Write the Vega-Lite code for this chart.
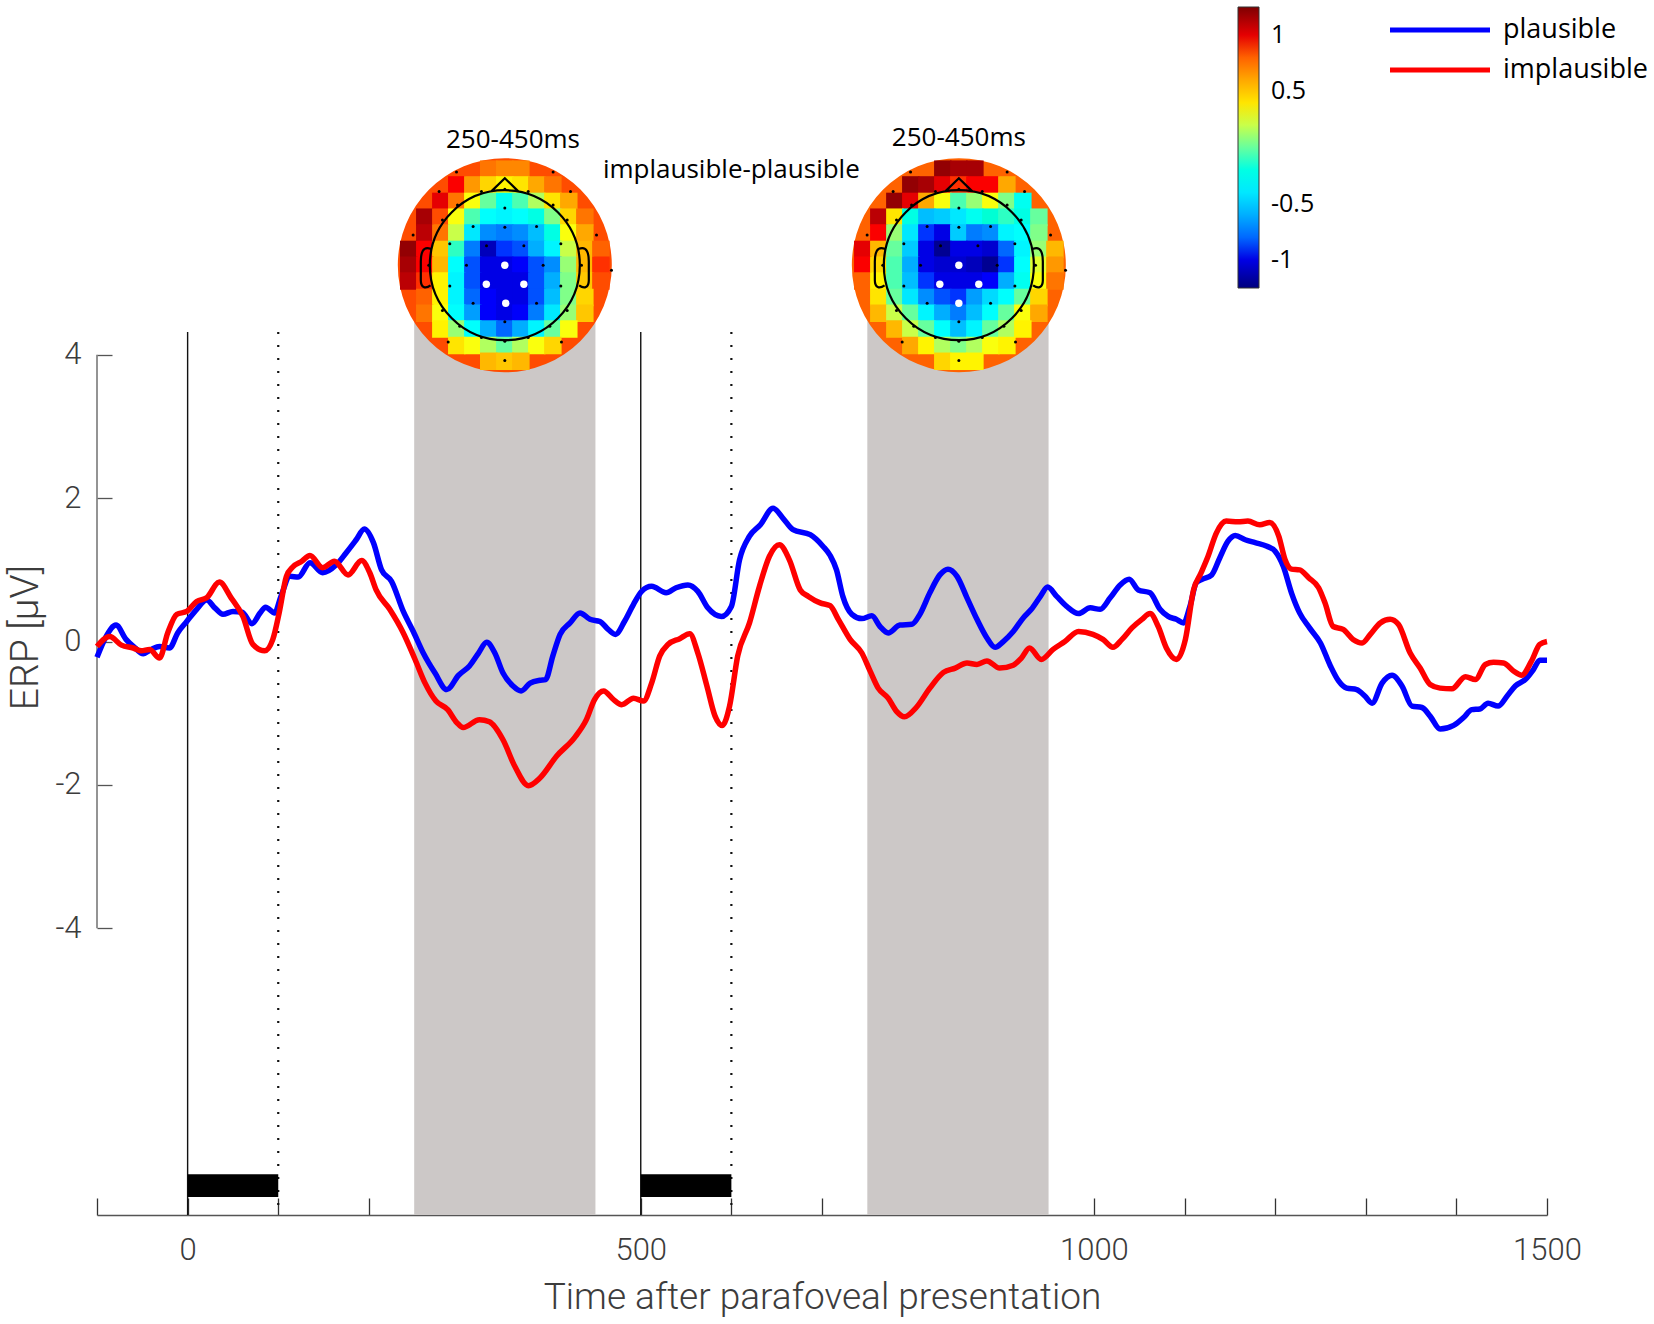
{
  "$schema": "https://vega.github.io/schema/vega-lite/v6.json",
  "width": 1450,
  "height": 1215,
  "autosize": {"type": "none"},
  "padding": {"left": 97, "top": 0, "right": 107, "bottom": 109},
  "background": "white",
  "config": {"view": {"stroke": null}},
  "datasets": {
    "erp": [
      {"condition":"plausible","time":-100,"erp":-0.22},{"condition":"plausible","time":-90,"erp":0.07},{"condition":"plausible","time":-79,"erp":0.23},{"condition":"plausible","time":-68,"erp":0.03},{"condition":"plausible","time":-58,"erp":-0.09},{"condition":"plausible","time":-49,"erp":-0.17},{"condition":"plausible","time":-40,"erp":-0.11},{"condition":"plausible","time":-31,"erp":-0.07},{"condition":"plausible","time":-20,"erp":-0.09},{"condition":"plausible","time":-11,"erp":0.12},{"condition":"plausible","time":-1,"erp":0.28},{"condition":"plausible","time":10,"erp":0.45},{"condition":"plausible","time":21,"erp":0.58},{"condition":"plausible","time":30,"erp":0.47},{"condition":"plausible","time":39,"erp":0.38},{"condition":"plausible","time":50,"erp":0.42},{"condition":"plausible","time":60,"erp":0.41},{"condition":"plausible","time":71,"erp":0.25},{"condition":"plausible","time":80,"erp":0.4},{"condition":"plausible","time":86,"erp":0.48},{"condition":"plausible","time":96,"erp":0.4},{"condition":"plausible","time":103,"erp":0.63},{"condition":"plausible","time":113,"erp":0.91},{"condition":"plausible","time":122,"erp":0.9},{"condition":"plausible","time":135,"erp":1.1},{"condition":"plausible","time":149,"erp":0.96},{"condition":"plausible","time":164,"erp":1.07},{"condition":"plausible","time":175,"erp":1.24},{"condition":"plausible","time":186,"erp":1.42},{"condition":"plausible","time":195,"erp":1.57},{"condition":"plausible","time":205,"erp":1.38},{"condition":"plausible","time":214,"erp":1.0},{"condition":"plausible","time":225,"erp":0.84},{"condition":"plausible","time":238,"erp":0.42},{"condition":"plausible","time":249,"erp":0.14},{"condition":"plausible","time":260,"erp":-0.16},{"condition":"plausible","time":273,"erp":-0.44},{"condition":"plausible","time":286,"erp":-0.67},{"condition":"plausible","time":299,"erp":-0.47},{"condition":"plausible","time":311,"erp":-0.34},{"condition":"plausible","time":321,"erp":-0.16},{"condition":"plausible","time":330,"erp":-0.01},{"condition":"plausible","time":339,"erp":-0.16},{"condition":"plausible","time":348,"erp":-0.44},{"condition":"plausible","time":359,"erp":-0.62},{"condition":"plausible","time":368,"erp":-0.69},{"condition":"plausible","time":378,"erp":-0.58},{"condition":"plausible","time":389,"erp":-0.54},{"condition":"plausible","time":395,"erp":-0.53},{"condition":"plausible","time":403,"erp":-0.2},{"condition":"plausible","time":411,"erp":0.1},{"condition":"plausible","time":422,"erp":0.26},{"condition":"plausible","time":433,"erp":0.4},{"condition":"plausible","time":444,"erp":0.31},{"condition":"plausible","time":455,"erp":0.28},{"condition":"plausible","time":464,"erp":0.17},{"condition":"plausible","time":472,"erp":0.1},{"condition":"plausible","time":482,"erp":0.28},{"condition":"plausible","time":492,"erp":0.52},{"condition":"plausible","time":501,"erp":0.7},{"condition":"plausible","time":512,"erp":0.77},{"condition":"plausible","time":528,"erp":0.68},{"condition":"plausible","time":539,"erp":0.75},{"condition":"plausible","time":552,"erp":0.79},{"condition":"plausible","time":563,"erp":0.7},{"condition":"plausible","time":574,"erp":0.47},{"condition":"plausible","time":589,"erp":0.35},{"condition":"plausible","time":600,"erp":0.49},{"condition":"plausible","time":609,"erp":1.14},{"condition":"plausible","time":620,"erp":1.47},{"condition":"plausible","time":632,"erp":1.63},{"condition":"plausible","time":646,"erp":1.86},{"condition":"plausible","time":657,"erp":1.72},{"condition":"plausible","time":668,"erp":1.56},{"condition":"plausible","time":687,"erp":1.49},{"condition":"plausible","time":701,"erp":1.33},{"condition":"plausible","time":709,"erp":1.2},{"condition":"plausible","time":716,"erp":1.0},{"condition":"plausible","time":723,"erp":0.63},{"condition":"plausible","time":733,"erp":0.38},{"condition":"plausible","time":744,"erp":0.32},{"condition":"plausible","time":755,"erp":0.36},{"condition":"plausible","time":764,"erp":0.21},{"condition":"plausible","time":773,"erp":0.12},{"condition":"plausible","time":786,"erp":0.23},{"condition":"plausible","time":799,"erp":0.24},{"condition":"plausible","time":808,"erp":0.38},{"condition":"plausible","time":819,"erp":0.68},{"condition":"plausible","time":830,"erp":0.93},{"condition":"plausible","time":839,"erp":1.01},{"condition":"plausible","time":849,"erp":0.91},{"condition":"plausible","time":860,"erp":0.61},{"condition":"plausible","time":871,"erp":0.31},{"condition":"plausible","time":882,"erp":0.05},{"condition":"plausible","time":891,"erp":-0.08},{"condition":"plausible","time":900,"erp":0.0},{"condition":"plausible","time":911,"erp":0.14},{"condition":"plausible","time":922,"erp":0.33},{"condition":"plausible","time":931,"erp":0.45},{"condition":"plausible","time":941,"erp":0.63},{"condition":"plausible","time":949,"erp":0.76},{"condition":"plausible","time":959,"erp":0.63},{"condition":"plausible","time":970,"erp":0.49},{"condition":"plausible","time":983,"erp":0.39},{"condition":"plausible","time":996,"erp":0.47},{"condition":"plausible","time":1007,"erp":0.45},{"condition":"plausible","time":1018,"erp":0.61},{"condition":"plausible","time":1029,"erp":0.79},{"condition":"plausible","time":1039,"erp":0.87},{"condition":"plausible","time":1049,"erp":0.72},{"condition":"plausible","time":1062,"erp":0.68},{"condition":"plausible","time":1073,"erp":0.45},{"condition":"plausible","time":1082,"erp":0.35},{"condition":"plausible","time":1091,"erp":0.31},{"condition":"plausible","time":1099,"erp":0.26},{"condition":"plausible","time":1106,"erp":0.49},{"condition":"plausible","time":1113,"erp":0.82},{"condition":"plausible","time":1120,"erp":0.87},{"condition":"plausible","time":1130,"erp":0.93},{"condition":"plausible","time":1139,"erp":1.17},{"condition":"plausible","time":1148,"erp":1.4},{"condition":"plausible","time":1156,"erp":1.48},{"condition":"plausible","time":1167,"erp":1.42},{"condition":"plausible","time":1178,"erp":1.38},{"condition":"plausible","time":1191,"erp":1.33},{"condition":"plausible","time":1200,"erp":1.26},{"condition":"plausible","time":1209,"erp":1.05},{"condition":"plausible","time":1218,"erp":0.68},{"condition":"plausible","time":1227,"erp":0.4},{"condition":"plausible","time":1238,"erp":0.19},{"condition":"plausible","time":1250,"erp":-0.02},{"condition":"plausible","time":1261,"erp":-0.34},{"condition":"plausible","time":1270,"erp":-0.55},{"condition":"plausible","time":1279,"erp":-0.65},{"condition":"plausible","time":1290,"erp":-0.67},{"condition":"plausible","time":1299,"erp":-0.76},{"condition":"plausible","time":1307,"erp":-0.86},{"condition":"plausible","time":1318,"erp":-0.58},{"condition":"plausible","time":1329,"erp":-0.47},{"condition":"plausible","time":1340,"erp":-0.62},{"condition":"plausible","time":1351,"erp":-0.9},{"condition":"plausible","time":1362,"erp":-0.92},{"condition":"plausible","time":1371,"erp":-1.04},{"condition":"plausible","time":1382,"erp":-1.22},{"condition":"plausible","time":1397,"erp":-1.17},{"condition":"plausible","time":1408,"erp":-1.06},{"condition":"plausible","time":1417,"erp":-0.95},{"condition":"plausible","time":1426,"erp":-0.94},{"condition":"plausible","time":1435,"erp":-0.86},{"condition":"plausible","time":1446,"erp":-0.9},{"condition":"plausible","time":1456,"erp":-0.76},{"condition":"plausible","time":1465,"erp":-0.62},{"condition":"plausible","time":1476,"erp":-0.53},{"condition":"plausible","time":1485,"erp":-0.39},{"condition":"plausible","time":1492,"erp":-0.26},{"condition":"plausible","time":1500,"erp":-0.26},
      {"condition":"implausible","time":-100,"erp":-0.07},{"condition":"implausible","time":-86,"erp":0.07},{"condition":"implausible","time":-73,"erp":-0.05},{"condition":"implausible","time":-60,"erp":-0.09},{"condition":"implausible","time":-51,"erp":-0.13},{"condition":"implausible","time":-42,"erp":-0.11},{"condition":"implausible","time":-31,"erp":-0.23},{"condition":"implausible","time":-22,"erp":0.12},{"condition":"implausible","time":-12,"erp":0.38},{"condition":"implausible","time":-1,"erp":0.42},{"condition":"implausible","time":10,"erp":0.56},{"condition":"implausible","time":21,"erp":0.61},{"condition":"implausible","time":35,"erp":0.83},{"condition":"implausible","time":48,"erp":0.61},{"condition":"implausible","time":61,"erp":0.35},{"condition":"implausible","time":72,"erp":-0.04},{"condition":"implausible","time":85,"erp":-0.13},{"condition":"implausible","time":94,"erp":0.03},{"condition":"implausible","time":101,"erp":0.4},{"condition":"implausible","time":109,"erp":0.91},{"condition":"implausible","time":116,"erp":1.04},{"condition":"implausible","time":126,"erp":1.12},{"condition":"implausible","time":135,"erp":1.2},{"condition":"implausible","time":149,"erp":1.03},{"condition":"implausible","time":162,"erp":1.12},{"condition":"implausible","time":177,"erp":0.93},{"condition":"implausible","time":192,"erp":1.13},{"condition":"implausible","time":201,"erp":0.96},{"condition":"implausible","time":208,"erp":0.72},{"condition":"implausible","time":223,"erp":0.45},{"condition":"implausible","time":238,"erp":0.12},{"condition":"implausible","time":251,"erp":-0.25},{"condition":"implausible","time":262,"erp":-0.58},{"condition":"implausible","time":274,"erp":-0.83},{"condition":"implausible","time":287,"erp":-0.95},{"condition":"implausible","time":297,"erp":-1.13},{"condition":"implausible","time":304,"erp":-1.2},{"condition":"implausible","time":322,"erp":-1.09},{"condition":"implausible","time":333,"erp":-1.12},{"condition":"implausible","time":348,"erp":-1.37},{"condition":"implausible","time":361,"erp":-1.74},{"condition":"implausible","time":376,"erp":-2.01},{"condition":"implausible","time":389,"erp":-1.9},{"condition":"implausible","time":407,"erp":-1.6},{"condition":"implausible","time":427,"erp":-1.34},{"condition":"implausible","time":440,"erp":-1.09},{"condition":"implausible","time":449,"erp":-0.81},{"condition":"implausible","time":459,"erp":-0.69},{"condition":"implausible","time":470,"erp":-0.81},{"condition":"implausible","time":479,"erp":-0.88},{"condition":"implausible","time":492,"erp":-0.79},{"condition":"implausible","time":503,"erp":-0.83},{"condition":"implausible","time":512,"erp":-0.58},{"condition":"implausible","time":521,"erp":-0.2},{"condition":"implausible","time":530,"erp":-0.04},{"condition":"implausible","time":543,"erp":0.04},{"condition":"implausible","time":554,"erp":0.11},{"condition":"implausible","time":563,"erp":-0.16},{"condition":"implausible","time":573,"erp":-0.62},{"condition":"implausible","time":582,"erp":-1.04},{"condition":"implausible","time":590,"erp":-1.17},{"condition":"implausible","time":598,"erp":-0.9},{"condition":"implausible","time":607,"erp":-0.2},{"condition":"implausible","time":620,"erp":0.26},{"condition":"implausible","time":631,"erp":0.77},{"condition":"implausible","time":642,"erp":1.19},{"condition":"implausible","time":653,"erp":1.35},{"condition":"implausible","time":664,"erp":1.14},{"condition":"implausible","time":676,"erp":0.72},{"condition":"implausible","time":685,"erp":0.63},{"condition":"implausible","time":698,"erp":0.54},{"condition":"implausible","time":709,"erp":0.5},{"condition":"implausible","time":718,"erp":0.31},{"condition":"implausible","time":731,"erp":0.03},{"condition":"implausible","time":744,"erp":-0.16},{"condition":"implausible","time":753,"erp":-0.41},{"condition":"implausible","time":762,"erp":-0.65},{"condition":"implausible","time":773,"erp":-0.79},{"condition":"implausible","time":782,"erp":-0.97},{"condition":"implausible","time":791,"erp":-1.05},{"condition":"implausible","time":804,"erp":-0.92},{"condition":"implausible","time":819,"erp":-0.65},{"condition":"implausible","time":834,"erp":-0.43},{"condition":"implausible","time":847,"erp":-0.37},{"condition":"implausible","time":860,"erp":-0.3},{"condition":"implausible","time":871,"erp":-0.32},{"condition":"implausible","time":882,"erp":-0.27},{"condition":"implausible","time":896,"erp":-0.37},{"condition":"implausible","time":911,"erp":-0.33},{"condition":"implausible","time":920,"erp":-0.23},{"condition":"implausible","time":929,"erp":-0.09},{"condition":"implausible","time":942,"erp":-0.25},{"condition":"implausible","time":955,"erp":-0.11},{"condition":"implausible","time":968,"erp":0.0},{"condition":"implausible","time":983,"erp":0.14},{"condition":"implausible","time":999,"erp":0.1},{"condition":"implausible","time":1010,"erp":0.03},{"condition":"implausible","time":1021,"erp":-0.08},{"condition":"implausible","time":1031,"erp":0.03},{"condition":"implausible","time":1042,"erp":0.19},{"condition":"implausible","time":1053,"erp":0.31},{"condition":"implausible","time":1062,"erp":0.39},{"condition":"implausible","time":1071,"erp":0.21},{"condition":"implausible","time":1080,"erp":-0.09},{"condition":"implausible","time":1091,"erp":-0.25},{"condition":"implausible","time":1101,"erp":0.03},{"condition":"implausible","time":1110,"erp":0.72},{"condition":"implausible","time":1118,"erp":0.95},{"condition":"implausible","time":1126,"erp":1.19},{"condition":"implausible","time":1135,"erp":1.51},{"condition":"implausible","time":1146,"erp":1.68},{"condition":"implausible","time":1159,"erp":1.67},{"condition":"implausible","time":1170,"erp":1.68},{"condition":"implausible","time":1183,"erp":1.63},{"condition":"implausible","time":1194,"erp":1.66},{"condition":"implausible","time":1204,"erp":1.47},{"condition":"implausible","time":1211,"erp":1.14},{"condition":"implausible","time":1218,"erp":1.01},{"condition":"implausible","time":1227,"erp":1.0},{"condition":"implausible","time":1237,"erp":0.89},{"condition":"implausible","time":1248,"erp":0.75},{"condition":"implausible","time":1255,"erp":0.54},{"condition":"implausible","time":1264,"erp":0.21},{"condition":"implausible","time":1275,"erp":0.17},{"condition":"implausible","time":1286,"erp":0.03},{"condition":"implausible","time":1296,"erp":-0.02},{"condition":"implausible","time":1305,"erp":0.1},{"condition":"implausible","time":1316,"erp":0.26},{"condition":"implausible","time":1327,"erp":0.31},{"condition":"implausible","time":1336,"erp":0.24},{"condition":"implausible","time":1349,"erp":-0.16},{"condition":"implausible","time":1360,"erp":-0.37},{"condition":"implausible","time":1371,"erp":-0.6},{"condition":"implausible","time":1382,"erp":-0.65},{"condition":"implausible","time":1395,"erp":-0.66},{"condition":"implausible","time":1410,"erp":-0.49},{"condition":"implausible","time":1421,"erp":-0.53},{"condition":"implausible","time":1432,"erp":-0.32},{"condition":"implausible","time":1441,"erp":-0.29},{"condition":"implausible","time":1452,"erp":-0.3},{"condition":"implausible","time":1463,"erp":-0.41},{"condition":"implausible","time":1472,"erp":-0.47},{"condition":"implausible","time":1483,"erp":-0.27},{"condition":"implausible","time":1492,"erp":-0.04},{"condition":"implausible","time":1500,"erp":0.0}
    ],
    "windows": [
      {"time": 250, "time_end": 450},
      {"time": 750, "time_end": 950}
    ],
    "stimuli": [
      {"time": 0, "time_end": 100},
      {"time": 500, "time_end": 600}
    ],
    "onsets": [{"time": 0}, {"time": 500}],
    "offsets": [{"time": 100}, {"time": 600}],
    "maps": [
      {"time": 350, "erp": 5.25, "amp": 0.85},
      {"time": 851, "erp": 5.25, "amp": 0.8}
    ],
    "topo": [
      {"time":332.3,"erp":6.59,"amp":0.75},{"time":350,"erp":6.59,"amp":0.7},{"time":367.7,"erp":6.59,"amp":0.7},
      {"time":297,"erp":6.37,"amp":0.95},{"time":314.7,"erp":6.37,"amp":0.65},{"time":332.3,"erp":6.37,"amp":0.45},{"time":350,"erp":6.37,"amp":0.35},{"time":367.7,"erp":6.37,"amp":0.4},{"time":385.3,"erp":6.37,"amp":0.6},{"time":403,"erp":6.37,"amp":0.75},
      {"time":279.4,"erp":6.14,"amp":1.0},{"time":297,"erp":6.14,"amp":0.75},{"time":314.7,"erp":6.14,"amp":0.3},{"time":332.3,"erp":6.14,"amp":0.0},{"time":350,"erp":6.14,"amp":-0.25},{"time":367.7,"erp":6.14,"amp":-0.05},{"time":385.3,"erp":6.14,"amp":0.15},{"time":403,"erp":6.14,"amp":0.4},{"time":420.6,"erp":6.14,"amp":0.6},
      {"time":261.7,"erp":5.92,"amp":1.15},{"time":279.4,"erp":5.92,"amp":0.85},{"time":297,"erp":5.92,"amp":0.3},{"time":314.7,"erp":5.92,"amp":-0.05},{"time":332.3,"erp":5.92,"amp":-0.3},{"time":350,"erp":5.92,"amp":-0.35},{"time":367.7,"erp":5.92,"amp":-0.3},{"time":385.3,"erp":5.92,"amp":-0.2},{"time":403,"erp":5.92,"amp":0.05},{"time":420.6,"erp":5.92,"amp":0.45},{"time":438.3,"erp":5.92,"amp":0.75},
      {"time":261.7,"erp":5.7,"amp":1.1},{"time":279.4,"erp":5.7,"amp":0.75},{"time":297,"erp":5.7,"amp":0.2},{"time":314.7,"erp":5.7,"amp":-0.4},{"time":332.3,"erp":5.7,"amp":-0.7},{"time":350,"erp":5.7,"amp":-0.75},{"time":367.7,"erp":5.7,"amp":-0.7},{"time":385.3,"erp":5.7,"amp":-0.55},{"time":403,"erp":5.7,"amp":-0.2},{"time":420.6,"erp":5.7,"amp":0.3},{"time":438.3,"erp":5.7,"amp":0.6},
      {"time":244,"erp":5.47,"amp":1.2},{"time":261.7,"erp":5.47,"amp":0.95},{"time":279.4,"erp":5.47,"amp":0.5},{"time":297,"erp":5.47,"amp":-0.1},{"time":314.7,"erp":5.47,"amp":-0.75},{"time":332.3,"erp":5.47,"amp":-1.1},{"time":350,"erp":5.47,"amp":-0.9},{"time":367.7,"erp":5.47,"amp":-0.85},{"time":385.3,"erp":5.47,"amp":-0.6},{"time":403,"erp":5.47,"amp":-0.35},{"time":420.6,"erp":5.47,"amp":0.2},{"time":438.3,"erp":5.47,"amp":0.55},{"time":456,"erp":5.47,"amp":0.8},
      {"time":244,"erp":5.25,"amp":1.15},{"time":261.7,"erp":5.25,"amp":0.95},{"time":279.4,"erp":5.25,"amp":0.55},{"time":297,"erp":5.25,"amp":-0.3},{"time":314.7,"erp":5.25,"amp":-0.85},{"time":332.3,"erp":5.25,"amp":-1.0},{"time":350,"erp":5.25,"amp":-1.0},{"time":367.7,"erp":5.25,"amp":-0.95},{"time":385.3,"erp":5.25,"amp":-0.85},{"time":403,"erp":5.25,"amp":-0.7},{"time":420.6,"erp":5.25,"amp":0.1},{"time":438.3,"erp":5.25,"amp":0.55},{"time":456,"erp":5.25,"amp":0.9},
      {"time":244,"erp":5.03,"amp":1.1},{"time":261.7,"erp":5.03,"amp":0.9},{"time":279.4,"erp":5.03,"amp":0.35},{"time":297,"erp":5.03,"amp":-0.35},{"time":314.7,"erp":5.03,"amp":-0.85},{"time":332.3,"erp":5.03,"amp":-1.0},{"time":350,"erp":5.03,"amp":-1.0},{"time":367.7,"erp":5.03,"amp":-1.0},{"time":385.3,"erp":5.03,"amp":-0.85},{"time":403,"erp":5.03,"amp":-0.6},{"time":420.6,"erp":5.03,"amp":0.05},{"time":438.3,"erp":5.03,"amp":0.5},{"time":456,"erp":5.03,"amp":0.85},
      {"time":261.7,"erp":4.8,"amp":0.8},{"time":279.4,"erp":4.8,"amp":0.35},{"time":297,"erp":4.8,"amp":-0.35},{"time":314.7,"erp":4.8,"amp":-0.8},{"time":332.3,"erp":4.8,"amp":-0.95},{"time":350,"erp":4.8,"amp":-1.0},{"time":367.7,"erp":4.8,"amp":-1.0},{"time":385.3,"erp":4.8,"amp":-0.85},{"time":403,"erp":4.8,"amp":-0.55},{"time":420.6,"erp":4.8,"amp":0.05},{"time":438.3,"erp":4.8,"amp":0.45},
      {"time":261.7,"erp":4.58,"amp":0.75},{"time":279.4,"erp":4.58,"amp":0.3},{"time":297,"erp":4.58,"amp":-0.3},{"time":314.7,"erp":4.58,"amp":-0.65},{"time":332.3,"erp":4.58,"amp":-0.95},{"time":350,"erp":4.58,"amp":-1.0},{"time":367.7,"erp":4.58,"amp":-0.95},{"time":385.3,"erp":4.58,"amp":-0.75},{"time":403,"erp":4.58,"amp":-0.4},{"time":420.6,"erp":4.58,"amp":0.1},{"time":438.3,"erp":4.58,"amp":0.5},
      {"time":279.4,"erp":4.36,"amp":0.35},{"time":297,"erp":4.36,"amp":0.1},{"time":314.7,"erp":4.36,"amp":-0.3},{"time":332.3,"erp":4.36,"amp":-0.6},{"time":350,"erp":4.36,"amp":-0.8},{"time":367.7,"erp":4.36,"amp":-0.6},{"time":385.3,"erp":4.36,"amp":-0.35},{"time":403,"erp":4.36,"amp":0.0},{"time":420.6,"erp":4.36,"amp":0.3},
      {"time":297,"erp":4.13,"amp":0.4},{"time":314.7,"erp":4.13,"amp":0.3},{"time":332.3,"erp":4.13,"amp":0.15},{"time":350,"erp":4.13,"amp":0.0},{"time":367.7,"erp":4.13,"amp":0.15},{"time":385.3,"erp":4.13,"amp":0.3},{"time":403,"erp":4.13,"amp":0.45},
      {"time":332.3,"erp":3.91,"amp":0.55},{"time":350,"erp":3.91,"amp":0.5},{"time":367.7,"erp":3.91,"amp":0.55},
      {"time":833.3,"erp":6.59,"amp":1.2},{"time":851,"erp":6.59,"amp":1.15},{"time":868.7,"erp":6.59,"amp":1.15},
      {"time":798,"erp":6.37,"amp":1.2},{"time":815.7,"erp":6.37,"amp":1.15},{"time":833.3,"erp":6.37,"amp":1.0},{"time":851,"erp":6.37,"amp":0.9},{"time":868.7,"erp":6.37,"amp":0.95},{"time":886.3,"erp":6.37,"amp":0.95},{"time":904,"erp":6.37,"amp":0.6},
      {"time":780.4,"erp":6.14,"amp":1.2},{"time":798,"erp":6.14,"amp":1.0},{"time":815.7,"erp":6.14,"amp":0.6},{"time":833.3,"erp":6.14,"amp":0.3},{"time":851,"erp":6.14,"amp":-0.05},{"time":868.7,"erp":6.14,"amp":0.1},{"time":886.3,"erp":6.14,"amp":0.3},{"time":904,"erp":6.14,"amp":0.05},{"time":921.6,"erp":6.14,"amp":-0.25},
      {"time":762.7,"erp":5.92,"amp":1.1},{"time":780.4,"erp":5.92,"amp":0.4},{"time":798,"erp":5.92,"amp":-0.2},{"time":815.7,"erp":5.92,"amp":-0.55},{"time":833.3,"erp":5.92,"amp":-0.5},{"time":851,"erp":5.92,"amp":-0.4},{"time":868.7,"erp":5.92,"amp":-0.25},{"time":886.3,"erp":5.92,"amp":-0.15},{"time":904,"erp":5.92,"amp":-0.1},{"time":921.6,"erp":5.92,"amp":-0.2},{"time":939.3,"erp":5.92,"amp":0.0},
      {"time":762.7,"erp":5.7,"amp":0.95},{"time":780.4,"erp":5.7,"amp":0.1},{"time":798,"erp":5.7,"amp":-0.4},{"time":815.7,"erp":5.7,"amp":-0.9},{"time":833.3,"erp":5.7,"amp":-1.0},{"time":851,"erp":5.7,"amp":-0.5},{"time":868.7,"erp":5.7,"amp":-0.75},{"time":886.3,"erp":5.7,"amp":-0.7},{"time":904,"erp":5.7,"amp":-0.35},{"time":921.6,"erp":5.7,"amp":-0.3},{"time":939.3,"erp":5.7,"amp":0.05},
      {"time":745,"erp":5.47,"amp":1.0},{"time":762.7,"erp":5.47,"amp":0.55},{"time":780.4,"erp":5.47,"amp":0.0},{"time":798,"erp":5.47,"amp":-0.5},{"time":815.7,"erp":5.47,"amp":-1.0},{"time":833.3,"erp":5.47,"amp":-1.2},{"time":851,"erp":5.47,"amp":-1.0},{"time":868.7,"erp":5.47,"amp":-1.0},{"time":886.3,"erp":5.47,"amp":-1.05},{"time":904,"erp":5.47,"amp":-0.8},{"time":921.6,"erp":5.47,"amp":-0.35},{"time":939.3,"erp":5.47,"amp":0.1},{"time":957,"erp":5.47,"amp":0.55},
      {"time":745,"erp":5.25,"amp":0.95},{"time":762.7,"erp":5.25,"amp":0.45},{"time":780.4,"erp":5.25,"amp":-0.05},{"time":798,"erp":5.25,"amp":-0.6},{"time":815.7,"erp":5.25,"amp":-1.0},{"time":833.3,"erp":5.25,"amp":-1.05},{"time":851,"erp":5.25,"amp":-1.05},{"time":868.7,"erp":5.25,"amp":-1.1},{"time":886.3,"erp":5.25,"amp":-1.2},{"time":904,"erp":5.25,"amp":-0.9},{"time":921.6,"erp":5.25,"amp":-0.3},{"time":939.3,"erp":5.25,"amp":0.25},{"time":957,"erp":5.25,"amp":0.65},
      {"time":745,"erp":5.03,"amp":0.8},{"time":762.7,"erp":5.03,"amp":0.35},{"time":780.4,"erp":5.03,"amp":-0.05},{"time":798,"erp":5.03,"amp":-0.55},{"time":815.7,"erp":5.03,"amp":-0.9},{"time":833.3,"erp":5.03,"amp":-1.0},{"time":851,"erp":5.03,"amp":-1.0},{"time":868.7,"erp":5.03,"amp":-1.0},{"time":886.3,"erp":5.03,"amp":-0.95},{"time":904,"erp":5.03,"amp":-0.6},{"time":921.6,"erp":5.03,"amp":-0.25},{"time":939.3,"erp":5.03,"amp":0.3},{"time":957,"erp":5.03,"amp":0.75},
      {"time":762.7,"erp":4.8,"amp":0.4},{"time":780.4,"erp":4.8,"amp":0.0},{"time":798,"erp":4.8,"amp":-0.4},{"time":815.7,"erp":4.8,"amp":-0.7},{"time":833.3,"erp":4.8,"amp":-0.85},{"time":851,"erp":4.8,"amp":-0.9},{"time":868.7,"erp":4.8,"amp":-0.65},{"time":886.3,"erp":4.8,"amp":-0.45},{"time":904,"erp":4.8,"amp":-0.3},{"time":921.6,"erp":4.8,"amp":0.0},{"time":939.3,"erp":4.8,"amp":0.45},
      {"time":762.7,"erp":4.58,"amp":0.55},{"time":780.4,"erp":4.58,"amp":0.2},{"time":798,"erp":4.58,"amp":0.0},{"time":815.7,"erp":4.58,"amp":-0.35},{"time":833.3,"erp":4.58,"amp":-0.6},{"time":851,"erp":4.58,"amp":-0.75},{"time":868.7,"erp":4.58,"amp":-0.55},{"time":886.3,"erp":4.58,"amp":-0.3},{"time":904,"erp":4.58,"amp":0.0},{"time":921.6,"erp":4.58,"amp":0.3},{"time":939.3,"erp":4.58,"amp":0.6},
      {"time":780.4,"erp":4.36,"amp":0.55},{"time":798,"erp":4.36,"amp":0.2},{"time":815.7,"erp":4.36,"amp":0.0},{"time":833.3,"erp":4.36,"amp":-0.3},{"time":851,"erp":4.36,"amp":-0.55},{"time":868.7,"erp":4.36,"amp":-0.35},{"time":886.3,"erp":4.36,"amp":0.0},{"time":904,"erp":4.36,"amp":0.15},{"time":921.6,"erp":4.36,"amp":0.35},
      {"time":798,"erp":4.13,"amp":0.6},{"time":815.7,"erp":4.13,"amp":0.35},{"time":833.3,"erp":4.13,"amp":0.15},{"time":851,"erp":4.13,"amp":0.05},{"time":868.7,"erp":4.13,"amp":0.15},{"time":886.3,"erp":4.13,"amp":0.3},{"time":904,"erp":4.13,"amp":0.35},
      {"time":833.3,"erp":3.91,"amp":0.45},{"time":851,"erp":3.91,"amp":0.35},{"time":868.7,"erp":3.91,"amp":0.35}
    ],
    "sensors": [
      {"time":296.7,"erp":6.55},{"time":403.3,"erp":6.55},{"time":277.5,"erp":6.28},{"time":422.5,"erp":6.28},{"time":324.2,"erp":6.28},{"time":350,"erp":6.31},{"time":375.8,"erp":6.28},{"time":297.8,"erp":6.09},{"time":403.3,"erp":6.09},{"time":350,"erp":6.05},{"time":281.2,"erp":5.88},{"time":418.8,"erp":5.88},{"time":315,"erp":5.79},{"time":350,"erp":5.78},{"time":385,"erp":5.79},{"time":248.8,"erp":5.67},{"time":451.2,"erp":5.67},{"time":289.3,"erp":5.55},{"time":329.8,"erp":5.52},{"time":371,"erp":5.52},{"time":411.8,"erp":5.55},{"time":266.1,"erp":5.25},{"time":307.7,"erp":5.25},{"time":392.3,"erp":5.25},{"time":434.6,"erp":5.25},{"time":467.7,"erp":5.18},{"time":289.3,"erp":4.96},{"time":411.8,"erp":4.96},{"time":315,"erp":4.72},{"time":385,"erp":4.72},{"time":281.2,"erp":4.62},{"time":418.8,"erp":4.62},{"time":300.3,"erp":4.4},{"time":350,"erp":4.46},{"time":399.7,"erp":4.4},{"time":324.2,"erp":4.24},{"time":350,"erp":4.19},{"time":375.8,"erp":4.24},{"time":287.5,"erp":4.18},{"time":412.5,"erp":4.18},{"time":350,"erp":3.92},
      {"time":797.7,"erp":6.55},{"time":904.3,"erp":6.55},{"time":778.5,"erp":6.28},{"time":923.5,"erp":6.28},{"time":825.2,"erp":6.28},{"time":851,"erp":6.31},{"time":876.8,"erp":6.28},{"time":798.8,"erp":6.09},{"time":904.3,"erp":6.09},{"time":851,"erp":6.05},{"time":782.2,"erp":5.88},{"time":919.8,"erp":5.88},{"time":816,"erp":5.79},{"time":851,"erp":5.78},{"time":886,"erp":5.79},{"time":749.8,"erp":5.67},{"time":952.2,"erp":5.67},{"time":790.3,"erp":5.55},{"time":830.8,"erp":5.52},{"time":872,"erp":5.52},{"time":912.8,"erp":5.55},{"time":767.1,"erp":5.25},{"time":808.7,"erp":5.25},{"time":893.3,"erp":5.25},{"time":935.6,"erp":5.25},{"time":968.7,"erp":5.18},{"time":790.3,"erp":4.96},{"time":912.8,"erp":4.96},{"time":816,"erp":4.72},{"time":886,"erp":4.72},{"time":782.2,"erp":4.62},{"time":919.8,"erp":4.62},{"time":801.3,"erp":4.4},{"time":851,"erp":4.46},{"time":900.7,"erp":4.4},{"time":825.2,"erp":4.24},{"time":851,"erp":4.19},{"time":876.8,"erp":4.24},{"time":788.5,"erp":4.18},{"time":913.5,"erp":4.18},{"time":851,"erp":3.92}
    ],
    "electrodes": [
      {"time": 350, "erp": 5.25}, {"time": 329.6, "erp": 4.985}, {"time": 371, "erp": 4.985}, {"time": 351, "erp": 4.72},
      {"time": 851, "erp": 5.25}, {"time": 830, "erp": 4.985}, {"time": 873, "erp": 4.985}, {"time": 851, "erp": 4.72}
    ],
    "annotations": [
      {"time": 359, "erp": 7.0, "label": "250-450ms"},
      {"time": 851, "erp": 7.02, "label": "250-450ms"},
      {"time": 600, "erp": 6.58, "label": "implausible-plausible"}
    ]
  },
  "layer": [
    {
      "data": {"name": "windows"},
      "mark": {"type": "rect", "color": "#ccc8c7"},
      "encoding": {
        "x": {"field": "time", "type": "quantitative"},
        "x2": {"field": "time_end"},
        "y": {"datum": 5.25},
        "y2": {"datum": -8}
      }
    },
    {
      "data": {"name": "onsets"},
      "mark": {"type": "rule", "color": "#111111", "strokeWidth": 1.4},
      "encoding": {
        "x": {"field": "time", "type": "quantitative"},
        "y": {"datum": 4.32},
        "y2": {"datum": -8}
      }
    },
    {
      "data": {"name": "offsets"},
      "mark": {"type": "rule", "color": "#111111", "strokeWidth": 2.2, "strokeDash": [2, 11]},
      "encoding": {
        "x": {"field": "time", "type": "quantitative"},
        "y": {"datum": 4.32},
        "y2": {"datum": -8}
      }
    },
    {
      "data": {"name": "stimuli"},
      "mark": {"type": "rect", "color": "black"},
      "encoding": {
        "x": {"field": "time", "type": "quantitative"},
        "x2": {"field": "time_end"},
        "y": {"datum": -7.43},
        "y2": {"datum": -7.75}
      }
    },
    {
      "data": {"values": [{"from": 4, "to": -4}]},
      "mark": {"type": "rule", "color": "#707070", "strokeWidth": 1.5},
      "encoding": {
        "x": {"datum": -100},
        "y": {"field": "from", "type": "quantitative"},
        "y2": {"field": "to"}
      }
    },
    {
      "data": {"name": "erp"},
      "mark": {"type": "line", "strokeWidth": 5.5, "interpolate": "monotone"},
      "encoding": {
        "x": {
          "field": "time",
          "type": "quantitative",
          "title": "Time after parafoveal presentation",
          "scale": {"domain": [-100, 1500], "nice": false, "zero": false},
          "axis": {
            "values": [-100, 0, 100, 200, 300, 400, 500, 600, 700, 800, 900, 1000, 1100, 1200, 1300, 1400, 1500],
            "labelExpr": "datum.value % 500 === 0 ? '' + datum.value : ''",
            "grid": false,
            "domainColor": "#555555",
            "domainWidth": 1.6,
            "tickColor": "#333333",
            "tickWidth": 1.3,
            "tickSize": -17,
            "labelPadding": 37,
            "labelFont": "Roboto",
            "labelFontWeight": 300,
            "labelFontSize": 31,
            "labelColor": "#3c3c3c",
            "labelFlush": false,
            "labelOverlap": false,
            "titleFont": "Roboto",
            "titleFontWeight": 300,
            "titleFontSize": 37,
            "titleColor": "#3c3c3c",
            "titlePadding": 14
          }
        },
        "y": {
          "field": "erp",
          "type": "quantitative",
          "title": "ERP [µV]",
          "scale": {"domain": [-8, 8.95], "nice": false, "zero": false},
          "axis": {
            "values": [-4, -2, 0, 2, 4],
            "labelExpr": "'' + datum.value",
            "grid": false,
            "domain": false,
            "tickColor": "#555555",
            "tickWidth": 1.3,
            "tickSize": -15,
            "labelPadding": 31,
            "labelFont": "Roboto",
            "labelFontWeight": 300,
            "labelFontSize": 31,
            "labelColor": "#3c3c3c",
            "titleFont": "Roboto",
            "titleFontWeight": 300,
            "titleFontSize": 39,
            "titleColor": "#3c3c3c",
            "titleAnchor": null,
            "titleBaseline": "middle",
            "titleX": -72,
            "titleY": 637
          }
        },
        "stroke": {
          "field": "condition",
          "type": "nominal",
          "scale": {"domain": ["plausible", "implausible"], "range": ["#0000ff", "#ff0000"]},
          "legend": {
            "orient": "none",
            "legendX": 1328,
            "legendY": 15,
            "title": null,
            "symbolType": "M -4 0 L 4 0",
            "symbolSize": 625,
            "symbolStrokeWidth": 5,
            "labelFont": "Open Sans",
            "labelFontSize": 27,
            "labelColor": "black",
            "labelOffset": 48,
            "rowPadding": 12
          }
        }
      }
    },
    {
      "data": {"name": "maps"},
      "mark": {"type": "circle", "size": 45796, "opacity": 1},
      "encoding": {
        "x": {"field": "time", "type": "quantitative"},
        "y": {"field": "erp", "type": "quantitative"},
        "fill": {"field": "amp", "type": "quantitative"}
      }
    },
    {
      "data": {"name": "topo"},
      "mark": {"type": "square", "size": 306, "opacity": 1, "strokeWidth": 0},
      "encoding": {
        "x": {"field": "time", "type": "quantitative"},
        "y": {"field": "erp", "type": "quantitative"},
        "fill": {
          "field": "amp",
          "type": "quantitative",
          "scale": {
            "domain": [-1.25, -0.94, -0.31, 0.31, 0.94, 1.25],
            "range": ["#00007f", "#0000ff", "#00ffff", "#ffff00", "#ff0000", "#7f0000"]
          },
          "legend": {
            "type": "gradient",
            "direction": "vertical",
            "orient": "none",
            "legendX": 1141,
            "legendY": 7,
            "title": null,
            "gradientLength": 281,
            "gradientThickness": 21,
            "gradientStrokeColor": "#333333",
            "gradientStrokeWidth": 1,
            "values": [1, 0.5, -0.5, -1],
            "labelExpr": "'' + datum.value",
            "labelFont": "Open Sans",
            "labelFontSize": 25,
            "labelColor": "black",
            "labelOffset": 12,
            "labelOverlap": false
          }
        }
      }
    },
    {
      "data": {"name": "maps"},
      "mark": {
        "type": "point",
        "shape": "M 1 0 A 1 1 0 1 1 -1 0 A 1 1 0 1 1 1 0 M -0.18 -0.985 L 0 -1.16 L 0.18 -0.985 M -0.99 -0.22 C -1.1 -0.26 -1.12 -0.15 -1.12 -0.05 L -1.12 0.2 C -1.12 0.3 -1.06 0.32 -0.99 0.27 M 0.99 -0.22 C 1.1 -0.26 1.12 -0.15 1.12 -0.05 L 1.12 0.2 C 1.12 0.3 1.06 0.32 0.99 0.27",
        "size": 22500,
        "filled": false,
        "stroke": "black",
        "strokeWidth": 2.2,
        "opacity": 1
      },
      "encoding": {
        "x": {"field": "time", "type": "quantitative"},
        "y": {"field": "erp", "type": "quantitative"}
      }
    },
    {
      "data": {"name": "sensors"},
      "mark": {"type": "circle", "size": 9, "color": "black", "opacity": 1},
      "encoding": {
        "x": {"field": "time", "type": "quantitative"},
        "y": {"field": "erp", "type": "quantitative"}
      }
    },
    {
      "data": {"name": "electrodes"},
      "mark": {"type": "circle", "size": 55, "color": "white", "opacity": 1},
      "encoding": {
        "x": {"field": "time", "type": "quantitative"},
        "y": {"field": "erp", "type": "quantitative"}
      }
    },
    {
      "data": {"name": "annotations"},
      "mark": {"type": "text", "font": "Open Sans", "fontSize": 26, "color": "black", "align": "center", "baseline": "middle"},
      "encoding": {
        "x": {"field": "time", "type": "quantitative"},
        "y": {"field": "erp", "type": "quantitative"},
        "text": {"field": "label"}
      }
    }
  ]
}
